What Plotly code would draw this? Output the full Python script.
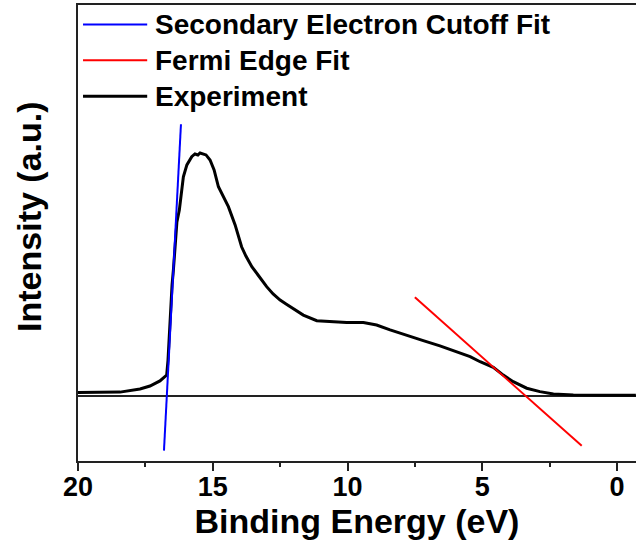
import plotly.graph_objects as go

# ---- data ----
exp_energy = [20.0, 19.18, 18.44, 17.70, 17.33, 16.96, 16.71, 16.66, 16.59, 16.51, 16.46,
              16.40, 16.33, 16.24, 16.09, 15.96, 15.78, 15.66, 15.55, 15.47, 15.36, 15.25,
              15.10, 14.95, 14.79, 14.62, 14.42, 14.17, 13.93, 13.77, 13.55, 13.32, 13.00,
              12.76, 12.50, 12.28, 12.01, 11.64, 11.14, 10.65, 10.03, 9.41, 8.92, 8.42,
              7.80, 7.19, 6.57, 5.95, 5.45, 5.08, 4.59, 4.22, 3.85, 3.35, 2.86, 2.36,
              1.62, 0.63, -0.70]
exp_intensity = [0.014, 0.014, 0.016, 0.029, 0.041, 0.062, 0.086, 0.148, 0.313, 0.457, 0.519,
                 0.621, 0.716, 0.765, 0.902, 0.951, 0.985, 0.996, 0.992, 1.000, 0.996, 0.992,
                 0.971, 0.930, 0.861, 0.823, 0.779, 0.704, 0.614, 0.576, 0.532, 0.498, 0.450,
                 0.420, 0.395, 0.379, 0.361, 0.333, 0.310, 0.306, 0.302, 0.302, 0.292, 0.272,
                 0.251, 0.228, 0.206, 0.182, 0.162, 0.141, 0.118, 0.086, 0.059, 0.032, 0.018,
                 0.008, 0.004, 0.003, 0.003]

sec_fit_energy = [16.81, 16.18]
sec_fit_intensity = [-0.225, 1.118]

fermi_fit_energy = [7.50, 1.31]
fermi_fit_intensity = [0.406, -0.205]

x_tick_vals = [20, 15, 10, 5, 0]
x_tick_text = ["20", "15", "10", "5", "0"]

series_names = ["Secondary Electron Cutoff Fit", "Fermi Edge Fit", "Experiment"]
series_colors = ["#0000ff", "#ff0000", "#000000"]
series_widths = [2, 2, 3]

FONT = "Arial, Liberation Sans, sans-serif"

fig = go.Figure()
fig.add_trace(go.Scatter(x=exp_energy, y=exp_intensity, mode="lines",
                         line=dict(color=series_colors[2], width=series_widths[2]),
                         name=series_names[2], showlegend=False))
fig.add_trace(go.Scatter(x=sec_fit_energy, y=sec_fit_intensity, mode="lines",
                         line=dict(color=series_colors[0], width=series_widths[0]),
                         name=series_names[0], showlegend=False))
fig.add_trace(go.Scatter(x=fermi_fit_energy, y=fermi_fit_intensity, mode="lines",
                         line=dict(color=series_colors[1], width=series_widths[1]),
                         name=series_names[1], showlegend=False))

# manual legend (long swatches like the reference)
legend_y = [0.957, 0.879, 0.800]
shapes = []
annotations = []
for name, col, w, yy in zip(series_names, series_colors, series_widths, legend_y):
    shapes.append(dict(type="line", xref="paper", yref="paper",
                       x0=0.009, x1=0.124, y0=yy, y1=yy,
                       line=dict(color=col, width=w)))
    annotations.append(dict(xref="paper", yref="paper", x=0.134, y=yy,
                            xanchor="left", yanchor="middle", showarrow=False,
                            text=name, font=dict(family=FONT, size=28, color="black",
                                                 weight="bold")))

annotations.append(dict(xref="paper", yref="paper", x=-0.088, y=0.535,
                        xanchor="center", yanchor="middle", showarrow=False,
                        textangle=-90, text="Intensity (a.u.)",
                        font=dict(family=FONT, size=34, color="black", weight="bold")))

fig.update_layout(
    width=636, height=558,
    margin=dict(l=78, r=0, t=5, b=97),
    paper_bgcolor="white", plot_bgcolor="white",
    showlegend=False,
    shapes=shapes, annotations=annotations,
    xaxis=dict(range=[20, -0.705], showgrid=False, zeroline=False,
               showline=True, linecolor="#222", linewidth=2, mirror=True,
               ticks="outside", ticklen=8, tickwidth=2, tickcolor="#222",
               tickvals=x_tick_vals, ticktext=x_tick_text,
               ticklabelstandoff=-7,
               minor=dict(dtick=2.5, ticks="outside", ticklen=4, tickwidth=2, tickcolor="#222"),
               tickfont=dict(family=FONT, size=27, color="black", weight="bold"),
               title=dict(text="Binding Energy (eV)", standoff=8,
                          font=dict(family=FONT, size=34, color="black", weight="bold"))),
    yaxis=dict(range=[-0.2675, 1.609], showgrid=False, showticklabels=False, ticks="",
               showline=True, linecolor="#222", linewidth=2, mirror=False,
               zeroline=True, zerolinecolor="#222", zerolinewidth=2),
)

fig.write_html("out.html", config={"displayModeBar": False},
               post_script="document.body.style.margin='0';document.body.style.overflow='hidden';")
